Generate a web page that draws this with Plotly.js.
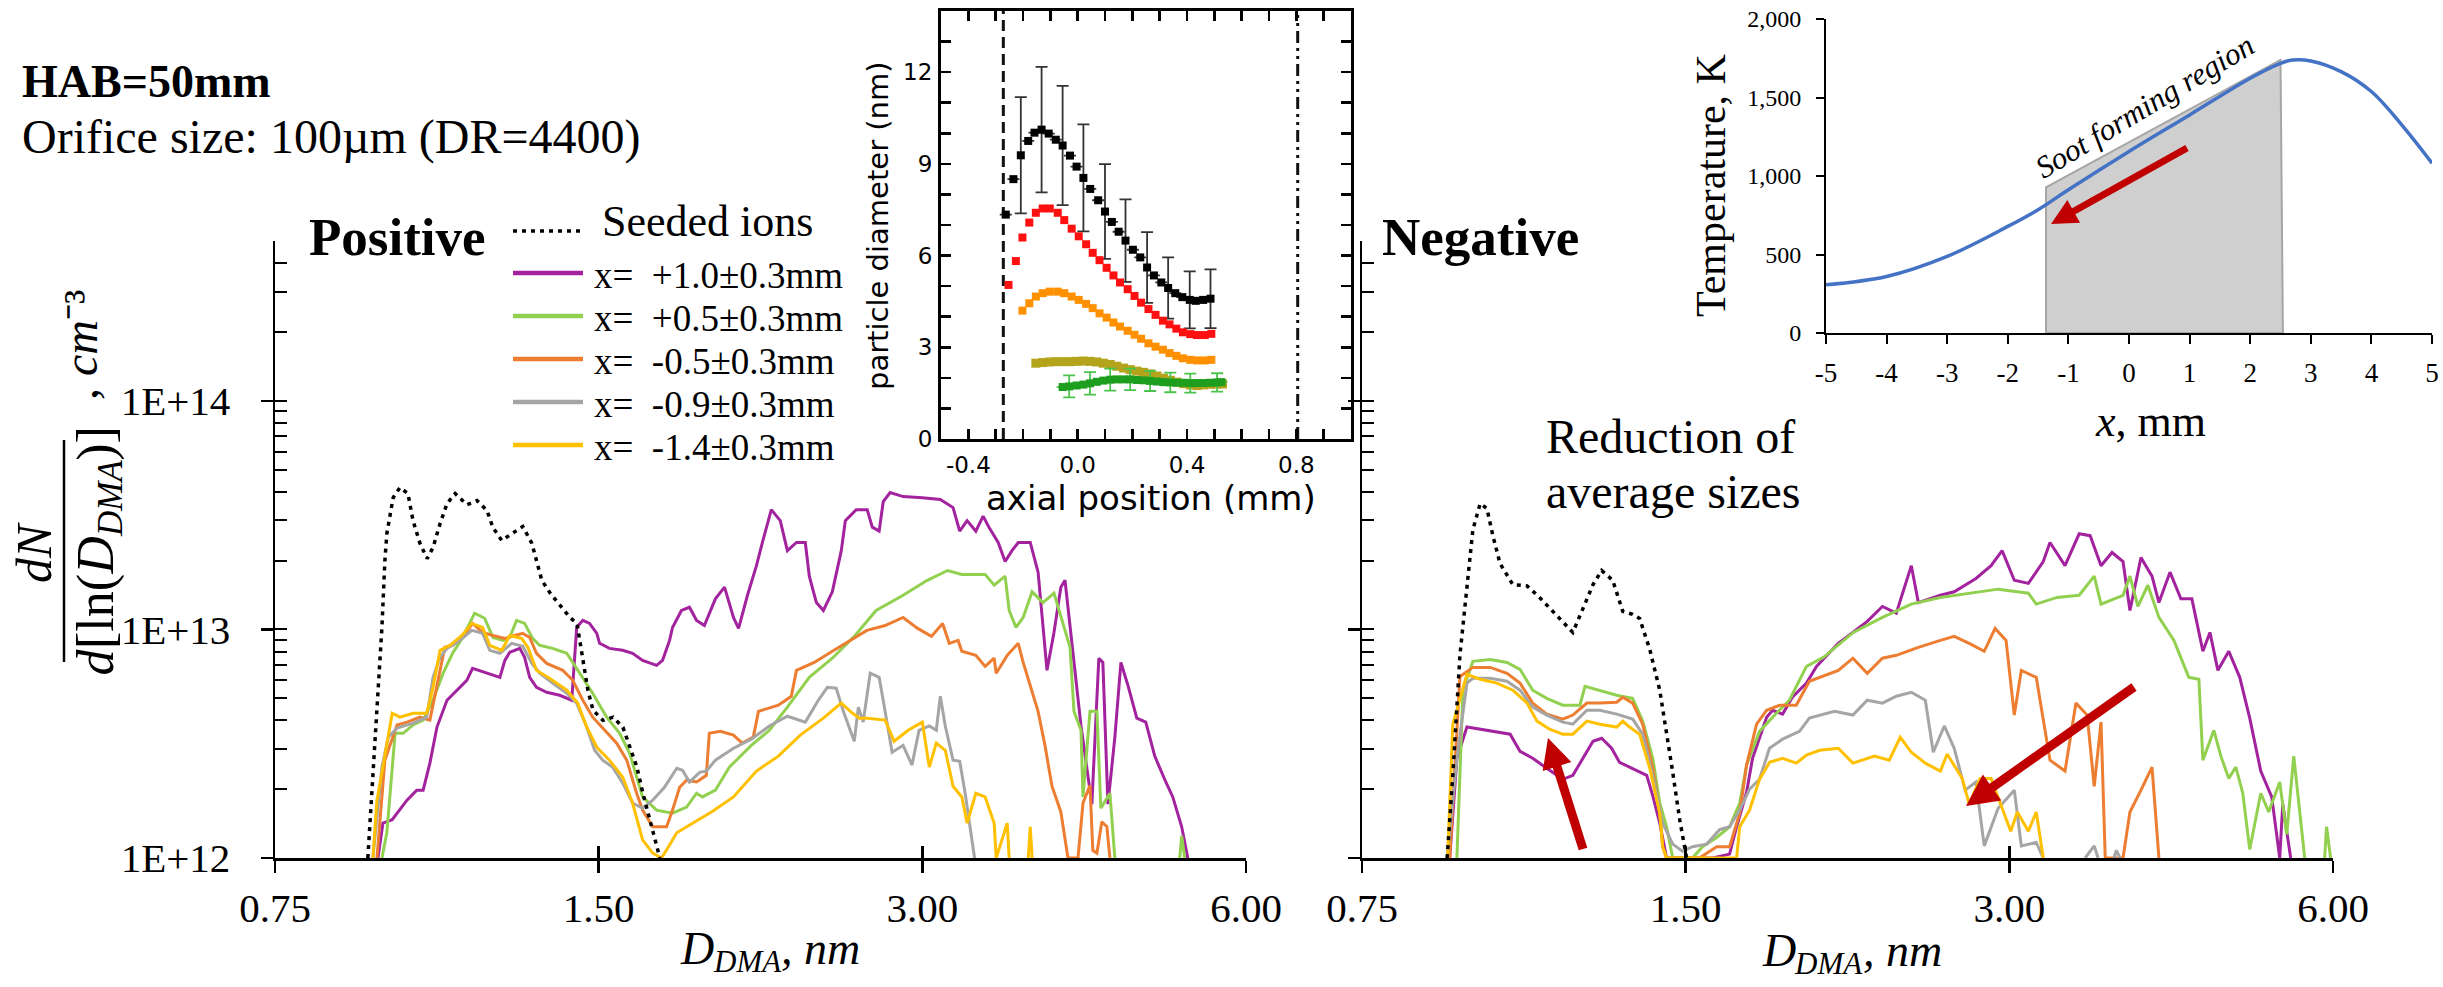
<!DOCTYPE html>
<html><head><meta charset="utf-8">
<script src="https://cdn.plot.ly/plotly-3.0.1.min.js"></script>
<style>html,body{margin:0;padding:0;background:#fff}#chart{width:2443px;height:987px}</style>
</head><body><div id="chart"></div><script>
// ---------------- main plots: size distributions ----------------
const xTickVals = [0.75, 1.5, 3, 6];
const xTickText = ['0.75', '1.50', '3.00', '6.00'];
const yTickVals = [1e12, 1e13, 1e14];
const yTickText = ['1E+12', '1E+13', '1E+14'];
const yMinorVals = [1e12,2e12,3e12,4e12,5e12,6e12,7e12,8e12,9e12,1e13,2e13,3e13,4e13,5e13,6e13,7e13,8e13,9e13,1e14,2e14,3e14,4e14,5e14];
const seriesNames = ['x=  +1.0±0.3mm','x=  +0.5±0.3mm','x=  -0.5±0.3mm','x=  -0.9±0.3mm','x=  -1.4±0.3mm'];

// Positive ions
const posSeedD = [0.915,0.925,0.933,0.943,0.949,0.953,0.966,0.980,0.997,1.008,1.023,1.039,1.052,1.068,1.084,1.103,1.131,1.156,1.181,1.196,1.219,1.248,1.275,1.300,1.314,1.328,1.352,1.381,1.410,1.432,1.450,1.466,1.482,1.514,1.547,1.580,1.604,1.628,1.649,1.674,1.692,1.710];
const posSeedN = [1e12,2.26e12,4.01e12,1.02e13,2.0e13,2.63e13,3.77e13,4.17e13,3.93e13,2.99e13,2.38e13,2.04e13,2.28e13,2.9e13,3.55e13,3.93e13,3.51e13,3.66e13,3.31e13,2.79e13,2.45e13,2.63e13,2.82e13,2.38e13,2.0e13,1.64e13,1.44e13,1.27e13,1.13e13,1.06e13,7.3e12,5.4e12,4.43e12,4.0e12,4.13e12,3.73e12,3.05e12,2.5e12,1.92e12,1.47e12,1.2e12,1e12];

const posP10D = [0.935,0.945,0.964,0.980,0.995,1.016,1.030,1.045,1.061,1.084,1.107,1.131,1.145,1.180,1.214,1.227,1.240,1.267,1.280,1.294,1.313,1.342,1.380,1.416,1.425,1.431,1.450,1.471,1.494,1.503,1.535,1.579,1.613,1.648,1.698,1.720,1.746,1.757,1.791,1.822,1.850,1.881,1.926,1.964,2.002,2.024,2.063,2.103,2.130,2.171,2.213,2.247,2.291,2.335,2.355,2.391,2.427,2.474,2.522,2.544,2.604,2.666,2.695,2.735,2.759,2.800,2.879,3.000,3.118,3.204,3.250,3.302,3.364,3.417,3.460,3.529,3.582,3.635,3.684,3.780,3.844,3.884,3.918,3.977,4.036,4.072,4.133,4.214,4.313,4.378,4.416,4.464,4.531,4.590,4.659,4.749,4.841,4.935,5.053,5.129,5.228,5.297];
const posP10N = [1e12,1.42e12,1.47e12,1.62e12,1.79e12,1.98e12,1.98e12,2.60e12,3.74e12,4.90e12,5.42e12,5.99e12,6.76e12,6.43e12,6.17e12,7.32e12,7.94e12,8.26e12,7.55e12,6.17e12,5.58e12,5.31e12,5.15e12,4.90e12,7.32e12,1.02e13,1.095e13,1.062e13,9.61e12,8.69e12,8.26e12,8.10e12,7.86e12,7.32e12,6.96e12,7.32e12,8.95e12,1.02e13,1.21e13,1.25e13,1.095e13,1.04e13,1.36e13,1.53e13,1.128e13,1.01e13,1.41e13,1.90e13,2.40e13,3.34e13,2.99e13,2.21e13,2.40e13,2.40e13,1.71e13,1.31e13,1.21e13,1.46e13,2.21e13,2.99e13,3.34e13,3.34e13,2.80e13,2.69e13,3.62e13,3.97e13,3.81e13,3.77e13,3.70e13,3.41e13,2.69e13,2.99e13,2.69e13,3.13e13,2.80e13,2.40e13,1.98e13,2.21e13,2.40e13,2.40e13,1.78e13,1.04e13,6.62e12,9.70e12,1.53e13,1.64e13,8.69e12,3.78e12,1.72e12,7.48e12,7.17e12,1.72e12,3.38e12,7.17e12,5.70e12,4.09e12,3.93e12,2.79e12,2.15e12,1.85e12,1.37e12,1e12];

const posP05D = [0.943,0.953,0.970,0.987,1.008,1.030,1.052,1.075,1.097,1.121,1.150,1.175,1.196,1.222,1.240,1.258,1.280,1.302,1.322,1.359,1.401,1.440,1.481,1.526,1.569,1.603,1.648,1.698,1.757,1.811,1.850,1.873,1.926,1.985,2.080,2.162,2.247,2.355,2.474,2.593,2.717,2.879,3.032,3.167,3.265,3.432,3.499,3.582,3.613,3.666,3.723,3.795,3.884,3.977,4.036,4.116,4.151,4.214,4.232,4.296,4.360,4.397,4.483,4.531,null,5.206,5.228,5.262];
const posP05N = [1e12,1.29e12,3.51e12,3.51e12,3.82e12,4.01e12,4.90e12,6.43e12,7.86e12,9.22e12,1.177e13,1.119e13,9.22e12,8.95e12,9.22e12,1.095e13,1.062e13,9.13e12,8.52e12,8.26e12,7.86e12,6.43e12,5.26e12,4.13e12,3.51e12,2.87e12,1.85e12,1.62e12,1.57e12,1.67e12,1.92e12,1.85e12,1.98e12,2.50e12,3.11e12,3.62e12,4.57e12,6.17e12,7.48e12,9.32e12,1.21e13,1.41e13,1.64e13,1.81e13,1.74e13,1.74e13,1.56e13,1.71e13,1.21e13,1.02e13,1.128e13,1.46e13,1.31e13,1.44e13,1.128e13,8.35e12,4.38e12,3.62e12,1.85e12,4.38e12,4.38e12,1.65e12,1.92e12,1e12,null,1e12,1.25e12,1e12];

const posM05D = [0.933,0.949,0.974,0.995,1.023,1.045,1.068,1.079,1.097,1.121,1.145,1.170,1.196,1.227,1.253,1.275,1.294,1.313,1.342,1.389,1.419,1.450,1.481,1.519,1.559,1.593,1.627,1.648,1.684,1.735,1.757,1.784,1.811,1.850,1.889,1.901,1.947,2.002,2.040,2.089,2.112,2.204,2.266,2.291,2.380,2.474,2.571,2.664,2.770,2.879,2.970,3.059,3.133,3.178,3.239,3.265,3.364,3.432,3.499,3.514,3.598,3.684,3.723,3.780,3.844,3.901,3.960,4.036,4.098,4.187,4.232,4.296,4.322,4.360,4.406,4.454,4.483];
const posM05N = [1e12,2.68e12,3.82e12,3.93e12,4.13e12,4.01e12,6.62e12,8.35e12,8.52e12,9.22e12,1.062e13,9.70e12,9.41e12,9.13e12,9.41e12,9.61e12,9.22e12,7.86e12,7.10e12,6.62e12,5.99e12,4.90e12,4.13e12,3.62e12,3.18e12,2.68e12,1.92e12,1.62e12,1.37e12,1.37e12,1.62e12,2.04e12,2.19e12,2.15e12,2.30e12,3.51e12,3.58e12,3.45e12,3.18e12,3.38e12,4.38e12,4.66e12,5.10e12,6.62e12,7.17e12,8.02e12,8.95e12,9.90e12,1.04e13,1.128e13,1.01e13,9.32e12,1.062e13,8.69e12,8.95e12,8.02e12,7.70e12,6.89e12,7.48e12,6.43e12,7.70e12,8.69e12,7.17e12,5.70e12,4.38e12,3.11e12,2.06e12,1.59e12,1e12,1e12,1.74e12,2.08e12,1.08e12,1.05e12,1.44e12,1.37e12,1e12];

const posM09D = [0.925,0.943,0.956,0.974,1.008,1.038,1.052,1.068,1.084,1.114,1.143,1.170,1.188,1.214,1.245,1.275,1.300,1.322,1.359,1.401,1.431,1.462,1.487,1.513,1.545,1.579,1.613,1.648,1.684,1.727,1.773,1.795,1.822,1.862,1.889,1.926,2.002,2.080,2.162,2.247,2.335,2.401,2.448,2.495,2.533,2.593,2.616,2.643,2.683,2.735,2.770,2.812,2.879,2.934,2.979,3.045,3.091,3.118,3.151,3.204,3.250,3.288,3.355];
const posM09N = [1e12,2.50e12,3.38e12,3.70e12,3.89e12,4.13e12,6.17e12,7.55e12,8.26e12,8.95e12,9.90e12,9.61e12,8.10e12,7.86e12,8.69e12,8.43e12,7.10e12,6.43e12,5.82e12,5.26e12,4.76e12,3.74e12,2.96e12,2.68e12,2.50e12,2.13e12,1.74e12,1.65e12,1.79e12,2.04e12,2.47e12,2.42e12,2.15e12,2.37e12,2.40e12,2.68e12,3.02e12,3.31e12,3.78e12,4.17e12,3.93e12,4.90e12,5.58e12,5.53e12,4.38e12,3.24e12,4.57e12,3.93e12,6.43e12,6.17e12,4.38e12,2.90e12,3.11e12,2.55e12,3.62e12,3.78e12,3.62e12,5.10e12,3.78e12,2.68e12,2.65e12,1.92e12,1e12];

const posM14D = [0.925,0.933,0.945,0.964,0.980,1.008,1.038,1.052,1.068,1.091,1.119,1.143,1.170,1.188,1.219,1.240,1.272,1.289,1.313,1.350,1.401,1.434,1.462,1.494,1.535,1.579,1.613,1.648,1.684,1.716,1.746,1.773,1.811,1.834,1.910,2.002,2.103,2.204,2.310,2.427,2.522,2.571,2.621,2.666,2.770,2.824,2.910,3.000,3.045,3.091,3.151,3.204,3.265,3.302,3.364,3.432,3.499,3.514,3.598,3.613,null,3.764,3.780,3.795];
const posM14N = [1e12,1.79e12,2.50e12,4.30e12,4.13e12,4.30e12,4.30e12,5.58e12,8.10e12,8.52e12,9.41e12,1.062e13,1.02e13,8.52e12,8.10e12,9.41e12,9.13e12,8.35e12,6.62e12,6.11e12,5.42e12,4.76e12,3.74e12,3.05e12,2.68e12,2.26e12,1.74e12,1.20e12,1.05e12,1e12,1.14e12,1.29e12,1.37e12,1.42e12,1.59e12,1.85e12,2.40e12,2.79e12,3.45e12,4.09e12,4.76e12,4.38e12,4.09e12,4.09e12,4.01e12,3.24e12,3.62e12,3.93e12,2.50e12,3.18e12,2.96e12,2.06e12,1.85e12,1.42e12,1.92e12,1.85e12,1.42e12,1e12,1.42e12,1e12,null,1e12,1.37e12,1e12];

// Negative ions
const negSeedD = [0.900,0.911,0.925,0.939,0.951,0.966,0.980,0.993,1.008,1.036,1.068,1.097,1.128,1.163,1.178,1.204,1.230,1.253,1.283,1.311,1.339,1.359,1.389,1.419,1.440,1.459,1.481,1.503];
const negSeedN = [1e12,2.30e12,7.70e12,1.53e13,2.73e13,3.55e13,3.38e13,2.55e13,1.94e13,1.57e13,1.55e13,1.38e13,1.20e13,1.041e13,9.70e12,1.235e13,1.57e13,1.81e13,1.64e13,1.20e13,1.163e13,1.117e13,8.18e12,5.42e12,3.58e12,2.37e12,1.47e12,1e12];

const negP10D = [0.905,0.919,0.939,0.966,0.993,1.030,1.052,1.081,1.114,1.153,1.178,1.204,1.230,1.253,1.280,1.302,1.339,1.380,1.398,1.419,1.440,1.589,1.648,1.673,1.709,1.731,1.784,1.807,1.846,1.885,1.943,1.985,2.080,2.213,2.286,2.355,2.432,2.469,2.588,2.666,2.793,2.885,2.954,3.032,3.125,3.226,3.273,3.380,3.484,3.567,3.651,3.738,3.827,3.884,3.977,4.072,4.133,4.232,4.332,4.435,4.541,4.610,4.689,4.800,4.914,5.020,5.140,5.262,5.353,5.388,5.480];
const negP10N = [1e12,2.73e12,3.74e12,3.66e12,3.58e12,3.48e12,2.93e12,2.73e12,2.47e12,2.21e12,2.30e12,2.73e12,3.24e12,3.34e12,3.02e12,2.62e12,2.47e12,2.30e12,1.87e12,1.42e12,1e12,1e12,1.04e12,1.37e12,1.94e12,2.73e12,4.13e12,4.43e12,4.26e12,5.05e12,5.82e12,6.89e12,8.69e12,1.084e13,1.26e13,1.177e13,1.90e13,1.31e13,1.41e13,1.46e13,1.67e13,1.90e13,2.21e13,1.64e13,1.59e13,1.98e13,2.40e13,1.90e13,2.62e13,2.57e13,1.90e13,2.17e13,1.98e13,1.21e13,2.06e13,1.71e13,1.31e13,1.78e13,1.36e13,1.36e13,8.02e12,9.70e12,6.62e12,8.02e12,6.17e12,4.09e12,2.40e12,1.85e12,1e12,1.72e12,1e12];

const negP05D = [0.919,0.931,0.951,0.987,1.023,1.052,1.081,1.114,1.153,1.196,1.209,1.248,1.294,1.339,1.368,1.398,1.419,1.440,1.459,1.522,1.555,1.603,1.648,1.684,1.709,1.757,1.807,1.873,1.943,2.015,2.148,2.286,2.432,2.588,2.752,2.929,3.125,3.178,3.323,3.484,3.598,3.651,3.827,3.884,3.951,4.036,4.133,4.268,4.406,4.502,4.541,4.649,4.719,4.800,4.873,4.946,5.020,5.140,5.228,5.353,5.434,5.516,5.647,null,5.893,5.918,5.969];
const negP05N = [1e12,5.42e12,7.25e12,7.39e12,7.17e12,6.69e12,5.42e12,4.99e12,4.66e12,4.66e12,5.64e12,5.42e12,5.15e12,4.99e12,3.97e12,2.73e12,1.74e12,1.37e12,1e12,1e12,1.12e12,1.23e12,1.37e12,1.74e12,2.55e12,3.58e12,4.13e12,4.90e12,6.89e12,7.55e12,9.70e12,1.128e13,1.29e13,1.38e13,1.44e13,1.50e13,1.44e13,1.29e13,1.38e13,1.41e13,1.71e13,1.29e13,1.41e13,1.71e13,1.26e13,1.56e13,1.128e13,8.95e12,6.17e12,6.05e12,2.68e12,3.62e12,2.79e12,2.23e12,2.50e12,1.92e12,1.09e12,1.92e12,1.59e12,2.15e12,1.27e12,2.79e12,1e12,null,1e12,1.37e12,1e12];

const negM05D = [0.905,0.925,0.951,0.987,1.023,1.052,1.081,1.114,1.153,1.178,1.214,1.248,1.294,1.311,1.339,1.368,1.398,1.419,1.428,1.440,1.545,1.603,1.648,1.684,1.709,1.746,1.784,1.834,1.901,1.955,2.080,2.146,2.213,2.286,2.355,2.469,2.588,2.666,2.753,2.843,2.910,2.979,3.032,3.078,3.178,3.273,3.380,3.460,3.544,3.598,3.651,3.684,3.827,3.884,3.977,4.072,4.133];
const negM05N = [1e12,6.22e12,6.82e12,6.82e12,6.43e12,5.82e12,4.76e12,4.26e12,4.05e12,4.22e12,4.76e12,4.76e12,4.80e12,5.05e12,4.76e12,3.85e12,2.47e12,1.57e12,1.12e12,1e12,1e12,1.12e12,1.12e12,1.57e12,2.55e12,3.85e12,4.43e12,4.66e12,4.66e12,5.93e12,6.62e12,7.48e12,6.43e12,7.48e12,7.70e12,8.35e12,8.95e12,9.32e12,8.69e12,8.02e12,1.01e13,8.95e12,4.22e12,6.62e12,6.17e12,2.68e12,2.40e12,4.76e12,4.22e12,2.06e12,3.93e12,1e12,1e12,1.59e12,1.98e12,2.50e12,1e12];

const negM09D = [0.900,0.919,0.939,0.951,0.987,1.023,1.052,1.081,1.114,1.153,1.178,1.214,1.248,1.294,1.339,1.368,1.398,1.428,1.459,1.490,1.522,1.569,1.613,1.648,1.684,1.720,1.757,1.795,1.846,1.914,1.955,2.063,2.146,2.213,2.286,2.355,2.432,2.506,2.549,2.610,2.666,2.729,2.793,2.843,2.929,3.032,3.078,3.178,3.226,null,3.529,3.598,3.628,null,3.754,3.772,3.803];
const negM09N = [1e12,2.73e12,5.82e12,6.11e12,6.11e12,5.93e12,5.42e12,4.57e12,4.22e12,3.93e12,3.85e12,4.43e12,4.43e12,4.26e12,4.05e12,3.48e12,2.30e12,1.42e12,1.15e12,1.07e12,1.12e12,1.15e12,1.33e12,1.37e12,1.62e12,2.00e12,2.21e12,3.02e12,3.31e12,3.58e12,4.09e12,4.38e12,4.22e12,4.90e12,4.76e12,5.10e12,5.31e12,4.90e12,2.90e12,3.78e12,3.02e12,1.98e12,2.15e12,1.13e12,1.65e12,1.98e12,1.13e12,1.17e12,1e12,null,1e12,1.13e12,1e12,null,1e12,1.08e12,1e12];

const negM14D = [0.901,0.911,0.939,0.966,1.001,1.036,1.068,1.091,1.121,1.153,1.178,1.214,1.248,1.294,1.311,1.330,1.359,1.389,1.419,1.428,1.440,1.673,1.684,1.720,1.757,1.795,1.846,1.901,1.943,1.998,2.080,2.146,2.247,2.320,2.375,2.432,2.506,2.588,2.626,2.712,2.753,2.818,2.885,2.929,3.009,3.052,3.125,3.178,3.226];
const negM14N = [1e12,3.85e12,6.36e12,6.05e12,5.82e12,5.42e12,4.76e12,3.97e12,3.66e12,3.48e12,3.48e12,3.97e12,3.85e12,3.74e12,3.97e12,3.74e12,3.48e12,2.47e12,1.57e12,1.12e12,1e12,1e12,1.37e12,1.62e12,2.21e12,2.62e12,2.73e12,2.60e12,2.82e12,2.96e12,3.02e12,2.60e12,2.79e12,2.68e12,3.38e12,2.90e12,2.60e12,2.40e12,2.85e12,2.23e12,1.72e12,2.23e12,2.23e12,1.85e12,1.31e12,1.59e12,1.31e12,1.59e12,1e12];

// ---------------- inset: particle diameter vs axial position ----------------
const inBlackX = [-0.263,-0.235,-0.208,-0.181,-0.158,-0.132,-0.106,-0.080,-0.055,-0.028,-0.004,0.021,0.046,0.075,0.100,0.125,0.150,0.175,0.202,0.229,0.254,0.279,0.306,0.331,0.357,0.383,0.410,0.432,0.459,0.486];
const inBlackY = [7.34,8.5,9.28,9.75,10.02,10.12,9.99,9.79,9.6,9.27,8.91,8.54,8.18,7.81,7.44,7.1,6.78,6.49,6.19,5.94,5.61,5.35,5.12,4.94,4.77,4.64,4.55,4.52,4.55,4.59];
const inBlackErr = [null,null,1.9,null,null,2.05,null,null,1.95,null,null,1.75,null,null,1.55,null,null,1.35,null,null,1.16,null,null,1.0,null,null,0.93,null,null,0.96];
const inRedX = [-0.253,-0.226,-0.202,-0.177,-0.153,-0.128,-0.102,-0.073,-0.049,-0.022,0.004,0.031,0.055,0.080,0.106,0.131,0.155,0.183,0.208,0.232,0.259,0.285,0.312,0.336,0.361,0.385,0.412,0.437,0.465,0.489];
const inRedY = [5.04,5.82,6.59,7.08,7.4,7.54,7.54,7.4,7.16,6.88,6.63,6.37,6.09,5.85,5.6,5.35,5.12,4.9,4.68,4.46,4.25,4.06,3.87,3.75,3.61,3.49,3.43,3.4,3.4,3.44];
const inOrangeX = [-0.202,-0.177,-0.153,-0.128,-0.102,-0.073,-0.049,-0.022,0.004,0.031,0.055,0.080,0.106,0.131,0.155,0.183,0.208,0.232,0.259,0.285,0.312,0.336,0.361,0.385,0.412,0.437,0.465,0.489];
const inOrangeY = [4.2,4.44,4.66,4.77,4.82,4.82,4.77,4.66,4.55,4.42,4.28,4.11,3.97,3.81,3.68,3.54,3.41,3.28,3.13,3.02,2.92,2.81,2.72,2.64,2.59,2.57,2.57,2.59];
const inOliveX = [-0.153,-0.128,-0.104,-0.080,-0.053,-0.028,-0.004,0.021,0.045,0.070,0.094,0.119,0.143,0.168,0.192,0.217,0.241,0.265,0.290,0.314,0.339,0.363,0.388,0.412,0.437,0.461,0.486,0.510,0.530];
const inOliveY = [2.48,2.5,2.52,2.53,2.53,2.53,2.54,2.55,2.54,2.52,2.48,2.44,2.38,2.32,2.27,2.22,2.18,2.13,2.06,1.99,1.92,1.86,1.81,1.77,1.75,1.77,1.79,1.8,1.8];
const inGreenX = [-0.055,-0.031,-0.004,0.021,0.045,0.070,0.094,0.119,0.143,0.168,0.192,0.217,0.241,0.265,0.290,0.314,0.339,0.363,0.388,0.412,0.437,0.461,0.486,0.510,0.526];
const inGreenY = [1.7,1.72,1.75,1.78,1.82,1.87,1.91,1.94,1.95,1.95,1.95,1.93,1.92,1.9,1.88,1.86,1.85,1.84,1.84,1.83,1.83,1.83,1.84,1.85,1.86];
const inGreenErr = [null,0.36,null,null,0.37,null,null,0.36,null,null,0.35,null,null,0.33,null,null,0.32,null,null,0.31,null,null,null,0.3,null];
const inDashX = [-0.272, -0.272];
const inDashDotX = [0.805, 0.805];
const inVLineY = [0, 14];
const inXTickVals = [-0.4, 0, 0.4, 0.8];
const inXTickText = ['-0.4', '0.0', '0.4', '0.8'];
const inYTickVals = [0, 3, 6, 9, 12];
const inYTickText = ['0', '3', '6', '9', '12'];

// ---------------- inset: temperature profile ----------------
const tempX = [-5,-4,-3,-2,-1.5,-1,0,1,2,2.5,2.7,3,3.5,4,4.5,5];
const tempT = [307,360,488,679,785,912,1156,1389,1623,1718,1739,1733,1665,1538,1326,1082];
const sootX = [-1.37,-1.37,2.5,2.54,-1.37];
const sootT = [0,927,1739,0,0];
const tXTickVals = [-5,-4,-3,-2,-1,0,1,2,3,4,5];
const tXTickText = ['-5','-4','-3','-2','-1','0','1','2','3','4','5'];
const tYTickVals = [0,500,1000,1500,2000];
const tYTickText = ['0','500','1,000','1,500','2,000'];

// ---------------- layout helpers ----------------
const W = 2443, H = 987;
const SERIF = '"Liberation Serif","Times New Roman",serif';
const SANS = '"DejaVu Sans","Liberation Sans",sans-serif';
const fx = p => p / W, fy = p => 1 - p / H;
const COLORS = ['#a3229e', '#92d050', '#ed7d31', '#a5a5a5', '#ffc000'];
const RED = '#c00000';
const DOT = '4px,5px';

function curve(x, y, color, xa, ya, name, dash, width) {
  return {type: 'scatter', mode: 'lines', x: x, y: y, xaxis: xa, yaxis: ya, name: name,
    showlegend: false, connectgaps: false, hoverinfo: 'skip',
    line: {color: color, width: width || 3, dash: dash || 'solid', shape: 'linear'}};
}

const posSets = [[posP10D,posP10N],[posP05D,posP05N],[posM05D,posM05N],[posM09D,posM09N],[posM14D,posM14N]];
const negSets = [[negP10D,negP10N],[negP05D,negP05N],[negM05D,negM05N],[negM09D,negM09N],[negM14D,negM14N]];

const traces = [];
posSets.forEach((s, i) => traces.push(curve(s[0], s[1], COLORS[i], 'x', 'y', seriesNames[i])));
traces.push(curve(posSeedD, posSeedN, '#000', 'x', 'y', 'Seeded ions', DOT, 3.5));
negSets.forEach((s, i) => traces.push(curve(s[0], s[1], COLORS[i], 'x2', 'y2', seriesNames[i])));
traces.push(curve(negSeedD, negSeedN, '#000', 'x2', 'y2', 'Seeded ions', DOT, 3.5));

function mk(x, y, color, size, err, errColor) {
  const t = {type: 'scatter', mode: 'markers', x: x, y: y, xaxis: 'x3', yaxis: 'y3', showlegend: false, hoverinfo: 'skip',
    marker: {symbol: 'square', size: size, color: color, line: {width: 0}}};
  if (err) t.error_y = {type: 'data', array: err, visible: true, color: errColor, thickness: 1.8, width: 6};
  return t;
}
traces.push(curve(inDashX, inVLineY, '#111', 'x3', 'y3', 'dash', '11px,6px', 3));
traces.push(curve(inDashDotX, inVLineY, '#111', 'x3', 'y3', 'dashdot', '12px,5px,3px,5px,3px,5px', 3));
traces.push(mk(inBlackX, inBlackY, '#000', 8, inBlackErr, '#333'));
traces.push(mk(inRedX, inRedY, '#ff1010', 8));
traces.push(mk(inOrangeX, inOrangeY, '#ff9000', 8));
traces.push(mk(inOliveX, inOliveY, '#b3a41c', 9));
traces.push(mk(inGreenX, inGreenY, '#1e9e1e', 8, inGreenErr, '#4cc44c'));

traces.push({type: 'scatter', mode: 'lines', x: sootX, y: sootT, xaxis: 'x4', yaxis: 'y4', fill: 'toself',
  fillcolor: '#d0cfd0', line: {color: '#a6a6a6', width: 2}, showlegend: false, hoverinfo: 'skip'});
traces.push({type: 'scatter', mode: 'lines', x: tempX, y: tempT, xaxis: 'x4', yaxis: 'y4',
  line: {color: '#4472c4', width: 3.5, shape: 'spline', smoothing: 1}, showlegend: false, hoverinfo: 'skip'});

traces.push({type: 'scatter', x: [], y: [], xaxis: 'x5', yaxis: 'y5', showlegend: false});
traces.push({type: 'scatter', x: [], y: [], xaxis: 'x6', yaxis: 'y6', showlegend: false});

const xRange = [Math.log10(0.75), Math.log10(6)];
const yRange = [12, Math.log10(5e14)];
const L = {x0: 275, x1: 1246}, R = {x0: 1362, x1: 2333}, MT = 241, MB = 858;

function mainX(x0, x1, anchor) {
  return {domain: [fx(x0), fx(x1)], anchor: anchor, type: 'log', range: xRange, tickmode: 'array',
    tickvals: xTickVals, ticktext: xTickText, ticks: 'outside', ticklen: 12, tickwidth: 2.5, tickcolor: '#000',
    showline: true, linewidth: 2.5, linecolor: '#000', showgrid: false, zeroline: false,
    tickfont: {family: SERIF, size: 41, color: '#000'}, ticklabelstandoff: 0};
}
function mainY(anchor, labels) {
  return {domain: [fy(MB), fy(MT)], anchor: anchor, type: 'log', range: yRange, tickmode: 'array',
    tickvals: yTickVals, ticktext: yTickText, showticklabels: labels, ticks: 'outside', ticklen: 12, tickwidth: 2.5,
    tickcolor: '#000', showline: true, linewidth: 2.5, linecolor: '#000', showgrid: false, zeroline: false,
    tickfont: {family: SERIF, size: 41, color: '#000'}, ticklabelstandoff: 22};
}
function overX(over, anchor) {
  return {overlaying: over, anchor: anchor, type: 'log', range: xRange, tickmode: 'array', tickvals: [1.5, 3, 6],
    ticks: 'inside', ticklen: 12, tickwidth: 2.5, tickcolor: '#000', showticklabels: false,
    showline: false, showgrid: false, zeroline: false};
}
function overY(over, anchor) {
  return {overlaying: over, anchor: anchor, side: 'left', type: 'log', range: yRange, tickmode: 'array',
    tickvals: yMinorVals, ticks: 'inside', ticklen: 12, tickwidth: 2, tickcolor: '#000', showticklabels: false,
    showline: false, showgrid: false, zeroline: false};
}

function ann(text, x, y, size, opts) {
  return Object.assign({text: text, x: fx(x), y: fy(y), xref: 'paper', yref: 'paper', showarrow: false,
    xanchor: 'center', yanchor: 'middle', font: {family: SERIF, size: size, color: '#000'}}, opts || {});
}

// rich text (subscripts) built from separate pieces, measured with a canvas
const ctx = document.createElement('canvas').getContext('2d');
function tw(p) { ctx.font = (p.i ? 'italic ' : '') + p.s + 'px "Liberation Serif"'; return ctx.measureText(p.t).width; }
function pieceText(p) { return p.i ? '<i>' + p.t + '</i>' : p.t; }
function richH(parts, cx, cy) {
  const ws = parts.map(tw), total = ws.reduce((a, b) => a + b, 0);
  let x = cx - total / 2;
  return parts.map((p, k) => { const a = ann(pieceText(p), x + ws[k] / 2, cy + (p.dy || 0), p.s); x += ws[k]; return a; });
}
function richV(parts, cx, cy) {
  const ws = parts.map(tw), total = ws.reduce((a, b) => a + b, 0);
  let y = cy + total / 2;
  return parts.map((p, k) => { const a = ann(pieceText(p), cx + (p.dy || 0), y - ws[k] / 2, p.s, {textangle: -90}); y -= ws[k]; return a; });
}
const xTitleParts = [{t: 'D', s: 46, i: true}, {t: 'DMA', s: 31, i: true, dy: 13}, {t: ', nm', s: 46, i: true}];
const denomParts = [{t: 'd', s: 52, i: true}, {t: '[ln(', s: 52}, {t: 'D', s: 52, i: true}, {t: 'DMA', s: 35, i: true, dy: 15}, {t: ')]', s: 52}];

const annotations = [
  ann('<b>HAB=50mm</b>', 20, 81, 46, {xanchor: 'left'}),
  ann('Orifice size: 100µm (DR=4400)', 20, 137, 48, {xanchor: 'left'}),
  ann('<b>Positive</b>', 307, 237, 53, {xanchor: 'left'}),
  ann('<b>Negative</b>', 1380, 237, 53, {xanchor: 'left'}),
  ann('Seeded ions', 600, 221, 44, {xanchor: 'left'}),
  ann('Reduction of', 1544, 436, 48, {xanchor: 'left'}),
  ann('average sizes', 1544, 491, 48, {xanchor: 'left'}),
  ann('<i>dN</i>', 34, 553, 50, {textangle: -90}),
  ann(', <i>cm</i>⁻³', 80, 345, 48, {textangle: -90}),
  ann('axial position (mm)', 1151, 498, 34, {font: {family: SANS, size: 34, color: '#000'}}),
  ann('particle diameter (nm)', 878, 226, 29, {textangle: -90, font: {family: SANS, size: 29, color: '#000'}}),
  ann('Temperature, K', 1711, 186, 42, {textangle: -90}),
  ann('<i>x</i>, mm', 2150, 421, 44),
  ann('<i>Soot forming region</i>', 2144, 106, 31, {textangle: -31})
].concat(richH(xTitleParts, 770, 948), richH(xTitleParts, 1852, 950), richV(denomParts, 96, 551));
seriesNames.forEach((n, i) => annotations.push(ann(n.replace('  ', '\u00a0\u00a0'), 592, [273, 316, 359, 402, 445][i] + 2, 37, {xanchor: 'left'})));

// arrows drawn as shapes (shaft + filled head), positions in figure pixels
function arrow(tx, ty, hx, hy, w, hl, hw) {
  const dx = hx - tx, dy = hy - ty, len = Math.hypot(dx, dy), ux = dx / len, uy = dy / len, nx = -uy, ny = ux;
  const bx = hx - ux * hl, by = hy - uy * hl;
  const p = (x, y) => fx(x) + ',' + fy(y);
  return [
    {type: 'line', xref: 'paper', yref: 'paper', x0: fx(tx), y0: fy(ty), x1: fx(bx + ux * 3), y1: fy(by + uy * 3), line: {color: RED, width: w}},
    {type: 'path', xref: 'paper', yref: 'paper', path: 'M' + p(hx, hy) + 'L' + p(bx + nx * hw, by + ny * hw) + 'L' + p(bx - nx * hw, by - ny * hw) + 'Z',
      fillcolor: RED, line: {color: RED, width: 0}}
  ];
}

const shapes = [
  {type: 'line', xref: 'paper', yref: 'paper', x0: fx(64), x1: fx(64), y0: fy(440), y1: fy(662), line: {color: '#000', width: 2.5}},
  {type: 'line', xref: 'paper', yref: 'paper', x0: fx(513), x1: fx(580), y0: fy(231), y1: fy(231), line: {color: '#000', width: 3.5, dash: DOT}}
].concat(arrow(1583, 849, 1548, 738, 9, 30, 15), arrow(2134, 687, 1966, 806, 9, 32, 16), arrow(2187, 148, 2051, 224, 7, 26, 13));
[273, 316, 359, 402, 445].forEach((yy, i) => shapes.push({type: 'line', xref: 'paper', yref: 'paper',
  x0: fx(513), x1: fx(583), y0: fy(yy), y1: fy(yy), line: {color: COLORS[i], width: 4.5}}));

const insetMinor = (dt, t0) => ({tickmode: 'linear', tick0: t0, dtick: dt, ticks: 'inside', ticklen: 10, tickwidth: 2.5, tickcolor: '#000', showgrid: false});

const layout = {
  width: W, height: H, margin: {l: 0, r: 0, t: 0, b: 0}, paper_bgcolor: '#fff', plot_bgcolor: 'rgba(0,0,0,0)',
  showlegend: false, font: {family: SERIF, color: '#000'},
  xaxis: mainX(L.x0, L.x1, 'y'), yaxis: mainY('x', true),
  xaxis2: mainX(R.x0, R.x1, 'y2'), yaxis2: mainY('x2', false),
  xaxis3: {domain: [fx(941), fx(1351)], anchor: 'y3', range: [-0.5, 1.0], tickmode: 'array', tickvals: inXTickVals,
    ticktext: inXTickText, ticks: 'inside', ticklen: 10, tickwidth: 2.5, tickcolor: '#000', mirror: 'ticks',
    minor: insetMinor(0.1, -0.5),
    showline: true, linewidth: 3, linecolor: '#000', showgrid: false, zeroline: false,
    tickfont: {family: SANS, size: 23, color: '#000'}, ticklabelstandoff: 3},
  yaxis3: {domain: [fy(439), fy(11)], anchor: 'x3', range: [0, 14], tickmode: 'array', tickvals: inYTickVals,
    ticktext: inYTickText, ticks: 'inside', ticklen: 10, tickwidth: 2.5, tickcolor: '#000', mirror: 'ticks',
    minor: insetMinor(1, 0),
    showline: true, linewidth: 3, linecolor: '#000', showgrid: false, zeroline: false,
    tickfont: {family: SANS, size: 23, color: '#000'}, ticklabelstandoff: 1},
  xaxis4: {domain: [fx(1826), fx(2432)], anchor: 'y4', range: [-5, 5], tickmode: 'array', tickvals: tXTickVals,
    ticktext: tXTickText, ticks: 'outside', ticklen: 9, tickwidth: 2, tickcolor: '#000', showline: true,
    linewidth: 2, linecolor: '#000', showgrid: false, zeroline: false, ticklabeloverflow: 'allow',
    tickfont: {family: SERIF, size: 27, color: '#000'}, ticklabelstandoff: 6},
  yaxis4: {domain: [fy(333), fy(19)], anchor: 'x4', range: [0, 2000], tickmode: 'array', tickvals: tYTickVals,
    ticktext: tYTickText, ticks: 'outside', ticklen: 8, tickwidth: 2, tickcolor: '#000', showline: true,
    linewidth: 2, linecolor: '#000', showgrid: false, zeroline: false,
    tickfont: {family: SERIF, size: 24, color: '#000'}, ticklabelstandoff: 10},
  xaxis5: overX('x', 'y'), yaxis5: overY('y', 'x'),
  xaxis6: overX('x2', 'y2'), yaxis6: overY('y2', 'x2'),
  annotations: annotations, shapes: shapes
};

Plotly.newPlot('chart', traces, layout, {displayModeBar: false, staticPlot: true});
</script></body></html>
